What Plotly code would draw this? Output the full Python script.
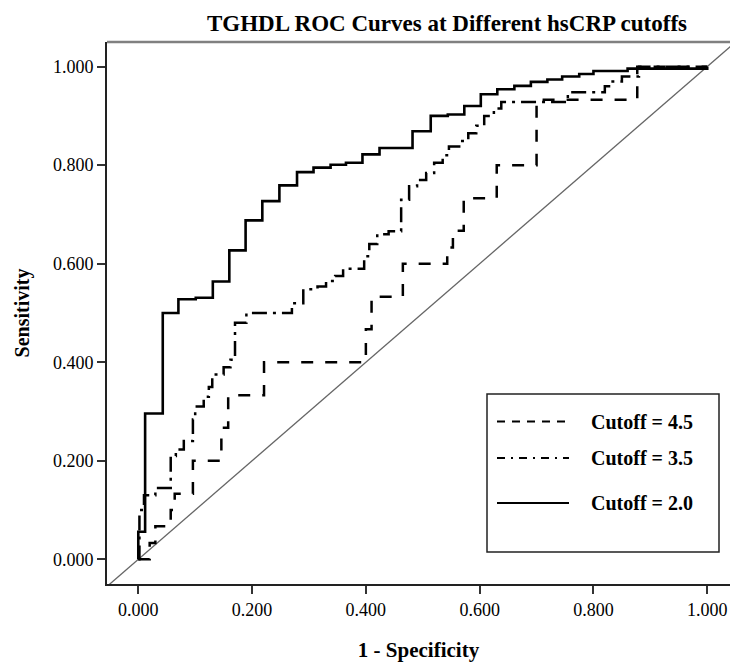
import plotly.graph_objects as go

# ---- data ----
# Cutoff = 2.0 (solid)
fpr_20 = [0.0, 0.0, 0.012, 0.043, 0.0705, 0.101, 0.131, 0.160, 0.1886, 0.218, 0.248,
          0.279, 0.308, 0.338, 0.365, 0.394, 0.424, 0.482, 0.514, 0.544, 0.573,
          0.602, 0.631, 0.661, 0.690, 0.719, 0.745, 0.775, 0.800, 0.860, 1.0]
tpr_20 = [0.0, 0.056, 0.296, 0.500, 0.528, 0.531, 0.564, 0.627, 0.688, 0.727, 0.759,
          0.786, 0.795, 0.801, 0.805, 0.822, 0.835, 0.869, 0.900, 0.903, 0.920,
          0.944, 0.954, 0.961, 0.969, 0.974, 0.980, 0.985, 0.991, 0.996, 1.0]

# Cutoff = 3.5 (dash-dot)
fpr_35 = [0.0, 0.002, 0.010, 0.030, 0.057, 0.066, 0.080, 0.096, 0.100, 0.115, 0.124,
          0.130, 0.150, 0.162, 0.170, 0.190, 0.270, 0.290, 0.315, 0.330, 0.346,
          0.360, 0.397, 0.406, 0.420, 0.440, 0.462, 0.476, 0.490, 0.506, 0.520,
          0.535, 0.546, 0.564, 0.580, 0.594, 0.608, 0.625, 0.638, 0.755, 0.820,
          0.830, 0.850, 0.880, 1.0]
tpr_35 = [0.0, 0.100, 0.130, 0.145, 0.210, 0.223, 0.240, 0.284, 0.310, 0.330, 0.350,
          0.375, 0.390, 0.405, 0.480, 0.500, 0.520, 0.548, 0.554, 0.565, 0.575,
          0.590, 0.615, 0.640, 0.660, 0.666, 0.730, 0.757, 0.770, 0.784, 0.805,
          0.820, 0.838, 0.849, 0.865, 0.880, 0.900, 0.915, 0.928, 0.948, 0.960,
          0.970, 0.980, 1.0, 1.0]

# Cutoff = 4.5 (dashed)
fpr_45 = [0.0, 0.020, 0.030, 0.057, 0.064, 0.096, 0.146, 0.158, 0.221, 0.400, 0.410,
          0.465, 0.543, 0.553, 0.572, 0.630, 0.700, 0.877, 1.0]
tpr_45 = [0.0, 0.033, 0.067, 0.100, 0.133, 0.200, 0.267, 0.333, 0.400, 0.467, 0.533,
          0.600, 0.633, 0.667, 0.733, 0.800, 0.933, 1.0, 1.0]

ref_line = [-0.1, 1.1]

tick_vals = [0.0, 0.2, 0.4, 0.6, 0.8, 1.0]
tick_text = ["0.000", "0.200", "0.400", "0.600", "0.800", "1.000"]

series_names = ["Cutoff = 4.5", "Cutoff = 3.5", "Cutoff = 2.0"]

# ---- layout constants ----
W, H = 730, 666
PLOT_L, PLOT_T, PLOT_B = 107, 42, 584          # pixel positions of the plot box
ML, MR, MT, MB = PLOT_L, 0, PLOT_T, H - PLOT_B
SERIF = "Liberation Serif, Times New Roman, serif"

def px_x(px):
    return (px - ML) / (W - ML - MR)

def px_y(py):
    return (H - MB - py) / (H - MT - MB)

fig = go.Figure()

fig.add_trace(go.Scatter(x=ref_line, y=ref_line, mode="lines",
                         line=dict(color="#666666", width=1.3),
                         showlegend=False, hoverinfo="skip"))

fig.add_trace(go.Scatter(x=fpr_45, y=tpr_45, mode="lines", name=series_names[0],
                         line=dict(color="black", width=2.5, dash="12px,12px", shape="hv"),
                         showlegend=False))
fig.add_trace(go.Scatter(x=fpr_35, y=tpr_35, mode="lines", name=series_names[1],
                         line=dict(color="black", width=2.5, dash="15px,6px,3px,6px", shape="hv"),
                         showlegend=False))
fig.add_trace(go.Scatter(x=fpr_20, y=tpr_20, mode="lines", name=series_names[2],
                         line=dict(color="black", width=2.6, shape="hv"),
                         showlegend=False))

# ---- hand-drawn legend box ----
shapes = []
annotations = []
shapes.append(dict(type="rect", xref="paper", yref="paper",
                   x0=px_x(487), x1=px_x(719), y0=px_y(552), y1=px_y(394),
                   line=dict(color="#222222", width=1.5), fillcolor="white", layer="above"))
legend_y = [421.5, 458, 503]
legend_dash = ["8px,7px", "8px,6px,2px,6px", "solid"]
for name, ly, dsh in zip(series_names, legend_y, legend_dash):
    shapes.append(dict(type="line", xref="paper", yref="paper",
                       x0=px_x(497), x1=px_x(569), y0=px_y(ly), y1=px_y(ly),
                       line=dict(color="black", width=1.8, dash=dsh), layer="above"))
    annotations.append(dict(xref="paper", yref="paper", x=px_x(589), y=px_y(ly),
                            xanchor="left", yanchor="middle", showarrow=False,
                            text=name, font=dict(family=SERIF, size=20, color="black", weight="bold")))

# top border line (gray)
shapes.append(dict(type="line", xref="paper", yref="paper", x0=0, x1=1, y0=1, y1=1,
                   line=dict(color="#808080", width=2.5)))

fig.update_layout(
    width=W, height=H,
    margin=dict(l=ML, r=MR, t=MT, b=MB),
    paper_bgcolor="white", plot_bgcolor="white",
    title=dict(text="TGHDL ROC Curves at Different hsCRP cutoffs",
               x=447 / W, xanchor="center", xref="container",
               y=1 - 23 / H, yanchor="middle", yref="container",
               font=dict(family=SERIF, size=23, color="black", weight="bold")),
    shapes=shapes,
    annotations=annotations,
    showlegend=False,
)

fig.update_xaxes(range=[-0.055, 1.04], tickvals=tick_vals, ticktext=tick_text,
                 ticks="outside", ticklen=8, tickwidth=1.5, tickcolor="#333333",
                 showline=True, linecolor="#222222", linewidth=1.8, mirror=False,
                 showgrid=False, zeroline=False,
                 tickfont=dict(family=SERIF, size=18, color="black"),
                 title=dict(text="1 - Specificity", standoff=24,
                            font=dict(family=SERIF, size=21, color="black", weight="bold")),
                 automargin=False)
fig.update_yaxes(range=[-0.05, 1.05], tickvals=tick_vals, ticktext=tick_text,
                 ticks="outside", ticklen=8, tickwidth=1.5, tickcolor="#333333",
                 showline=True, linecolor="#222222", linewidth=1.8, mirror=False,
                 showgrid=False, zeroline=False,
                 tickfont=dict(family=SERIF, size=18, color="black"),
                 title=dict(text="Sensitivity", standoff=18,
                            font=dict(family=SERIF, size=20, color="black", weight="bold")),
                 automargin=False)

# remove the browser's default page margin so the figure sits at the window corner
fig.write_html("out.html",
               config={"displayModeBar": False},
               post_script="document.body.style.margin='0';document.body.style.overflow='hidden';")
